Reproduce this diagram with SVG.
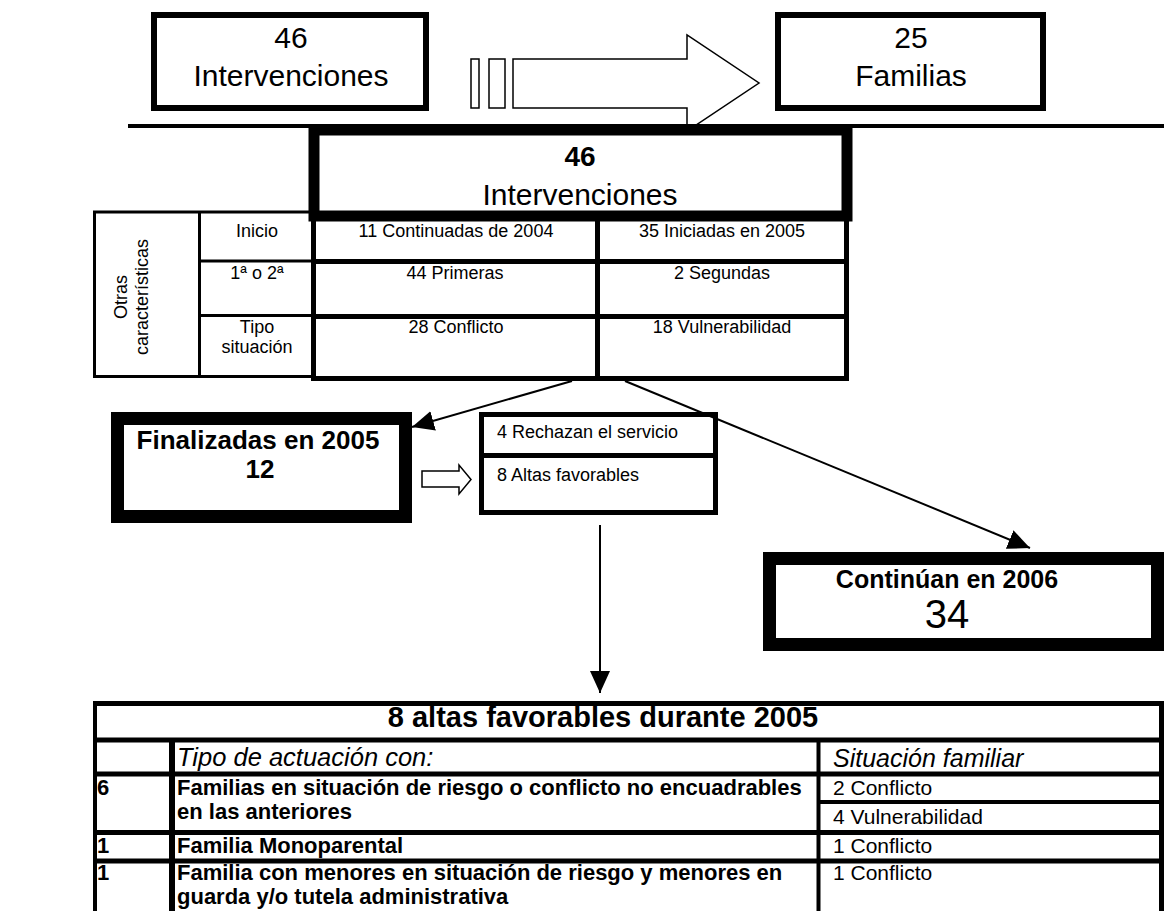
<svg xmlns="http://www.w3.org/2000/svg" width="1164" height="911" viewBox="0 0 1164 911">
<defs>
<style>
text { font-family: "Liberation Sans", Arial, sans-serif; fill: #000; }
.b { font-weight: bold; }
.i { font-style: italic; }
.m { text-anchor: middle; }
.box { fill: #fff; stroke: #000; }
.ln { stroke: #000; fill: none; }
.hollow { fill: #fff; stroke: #000; stroke-width: 1.5; }
.s18 { font-size: 18px; }
</style>
<marker id="ah" markerUnits="userSpaceOnUse" markerWidth="24" markerHeight="22" refX="22" refY="10" orient="auto">
<path d="M0,0 L22,10 L0,20 Z" fill="#000"/>
</marker>
</defs>
<rect width="1164" height="911" fill="#fff"/>

<g id="node-top-intervenciones">
<rect class="box" x="154" y="15" width="272" height="93" stroke-width="6"/>
<text class="m" x="291" y="48" font-size="30">46</text>
<text class="m" x="291" y="86" font-size="30">Intervenciones</text>
</g>

<g id="node-top-familias">
<rect class="box" x="778" y="15" width="265" height="93" stroke-width="6"/>
<text class="m" x="911" y="48" font-size="30">25</text>
<text class="m" x="911" y="86" font-size="30">Familias</text>
</g>

<g id="big-arrow">
<rect class="hollow" x="471" y="59" width="8" height="49"/>
<rect class="hollow" x="489" y="59" width="16" height="49"/>
<path class="hollow" d="M513,59 H687 V35 L759,83 L687,131 V108 H513 Z"/>
</g>

<line class="ln" x1="128" y1="126" x2="1164" y2="126" stroke-width="4"/>

<g id="node-otras">
<rect class="box" x="94.5" y="212" width="220" height="164.5" stroke-width="3"/>
<line class="ln" x1="199.5" y1="212" x2="199.5" y2="377" stroke-width="3"/>
<line class="ln" x1="199.5" y1="261" x2="313" y2="261" stroke-width="3"/>
<line class="ln" x1="199.5" y1="315.5" x2="313" y2="315.5" stroke-width="3"/>
<text class="m s18" transform="translate(127,297) rotate(-90)">Otras</text>
<text class="m s18" transform="translate(148,297) rotate(-90)">características</text>
<text class="m s18" x="257" y="237">Inicio</text>
<text class="m s18" x="257" y="279">1ª o 2ª</text>
<text class="m s18" x="257" y="333">Tipo</text>
<text class="m s18" x="257" y="353">situación</text>
</g>

<g id="node-grid">
<rect class="box" x="313.5" y="215.5" width="533" height="163" stroke-width="5"/>
<line class="ln" x1="597.5" y1="215" x2="597.5" y2="379" stroke-width="5"/>
<line class="ln" x1="313" y1="261.5" x2="847" y2="261.5" stroke-width="5"/>
<line class="ln" x1="313" y1="316.5" x2="847" y2="316.5" stroke-width="5"/>
<text class="m s18" x="456" y="237">11 Continuadas de 2004</text>
<text class="m s18" x="722" y="237">35 Iniciadas en 2005</text>
<text class="m s18" x="455" y="279">44 Primeras</text>
<text class="m s18" x="722" y="279">2 Segundas</text>
<text class="m s18" x="456" y="333">28 Conflicto</text>
<text class="m s18" x="722" y="333">18 Vulnerabilidad</text>
</g>

<g id="node-big-intervenciones">
<rect class="box" x="314" y="130" width="533" height="86" stroke-width="11"/>
<text class="m b" x="580" y="166" font-size="28">46</text>
<text class="m" x="580" y="205" font-size="30">Intervenciones</text>
</g>

<g id="node-finalizadas">
<rect class="box" x="117.5" y="418.5" width="288" height="98" stroke-width="13"/>
<text class="m b" x="258" y="449" font-size="26">Finalizadas en 2005</text>
<text class="m b" x="260" y="478" font-size="26">12</text>
</g>

<g id="node-rechazan">
<rect class="box" x="481.5" y="414.5" width="234" height="98" stroke-width="5"/>
<line class="ln" x1="481" y1="455.5" x2="716" y2="455.5" stroke-width="5"/>
<text class="s18" x="497" y="438">4 Rechazan el servicio</text>
<text class="s18" x="497" y="481">8 Altas favorables</text>
</g>

<g id="node-continuan">
<rect class="box" x="769.5" y="558.5" width="388" height="86" stroke-width="13"/>
<text class="m b" x="947" y="588" font-size="25">Continúan en 2006</text>
<text class="m" x="947" y="628" font-size="40">34</text>
</g>

<g id="connectors">
<line class="ln" x1="572" y1="381" x2="412" y2="427" stroke-width="2" marker-end="url(#ah)"/>
<line class="ln" x1="625" y1="381" x2="1030" y2="548" stroke-width="2" marker-end="url(#ah)"/>
<line class="ln" x1="600" y1="525" x2="600" y2="693" stroke-width="2" marker-end="url(#ah)"/>
<path class="hollow" d="M422,471 H459 V465 L471,479.5 L459,494 V487 H422 Z"/>
</g>

<g id="node-altas-table">
<line class="ln" x1="93" y1="703.5" x2="1164" y2="703.5" stroke-width="5"/>
<line class="ln" x1="95" y1="701" x2="95" y2="911" stroke-width="4"/>
<line class="ln" x1="1161.5" y1="701" x2="1161.5" y2="911" stroke-width="5"/>
<line class="ln" x1="93" y1="740" x2="1164" y2="740" stroke-width="5"/>
<line class="ln" x1="93" y1="774" x2="1164" y2="774" stroke-width="5"/>
<line class="ln" x1="818" y1="802" x2="1164" y2="802" stroke-width="4"/>
<line class="ln" x1="93" y1="832.5" x2="1164" y2="832.5" stroke-width="5"/>
<line class="ln" x1="93" y1="861" x2="1164" y2="861" stroke-width="5"/>
<line class="ln" x1="172" y1="740" x2="172" y2="911" stroke-width="6"/>
<line class="ln" x1="818.5" y1="740" x2="818.5" y2="911" stroke-width="4"/>
<text class="m b" x="603" y="727" font-size="29">8 altas favorables durante 2005</text>
<text class="i" x="177" y="766" font-size="25.5">Tipo de actuación con:</text>
<text class="i" x="833" y="767" font-size="25">Situación familiar</text>
<text class="b" x="97" y="795" font-size="22">6</text>
<text class="b" x="97" y="853" font-size="22">1</text>
<text class="b" x="97" y="880" font-size="22">1</text>
<text class="b" x="177" y="795" font-size="22">Familias en situación de riesgo o conflicto no encuadrables</text>
<text class="b" x="177" y="819" font-size="22">en las anteriores</text>
<text class="b" x="177" y="853" font-size="22">Familia Monoparental</text>
<text class="b" x="177" y="880" font-size="22">Familia con menores en situación de riesgo y menores en</text>
<text class="b" x="177" y="904" font-size="22">guarda y/o tutela administrativa</text>
<text x="833" y="795" font-size="21">2 Conflicto</text>
<text x="833" y="824" font-size="21">4 Vulnerabilidad</text>
<text x="833" y="853" font-size="21">1 Conflicto</text>
<text x="833" y="880" font-size="21">1 Conflicto</text>
</g>
</svg>
